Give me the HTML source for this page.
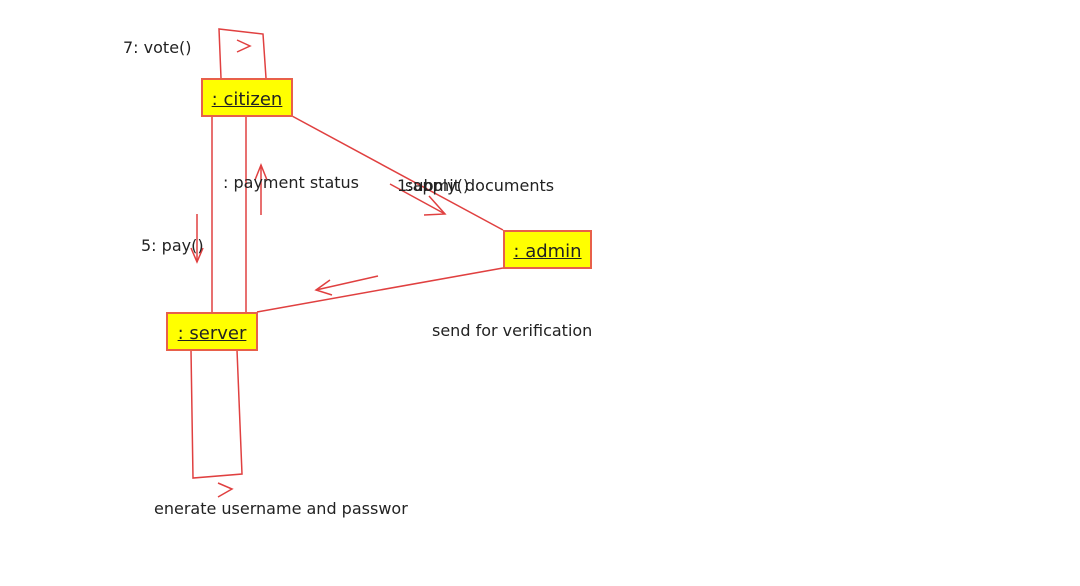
<!DOCTYPE html>
<html><head><style>
body{margin:0;width:1080px;height:586px;background:#fff;position:relative;overflow:hidden;font-family:"DejaVu Sans",Verdana,sans-serif;}
.t{position:absolute;font-size:16px;color:#222;white-space:nowrap;}
.b{position:absolute;background:#ffff00;border:2px solid #e8604a;box-sizing:border-box;font-size:18px;text-align:center;line-height:40px;color:#222;}
.b span{text-decoration:underline;}
</style></head><body>
<svg width="1080" height="586" style="position:absolute;left:0;top:0" fill="none" stroke="#e04040" stroke-width="1.5">
<polyline points="221,78 219,29 263,34 266,78"/>
<polyline points="237,40 250,46 237,52"/>
<line x1="212" y1="116" x2="212" y2="312"/>
<line x1="246" y1="116" x2="246" y2="312"/>
<line x1="292" y1="116" x2="503" y2="230"/>
<line x1="390" y1="184" x2="445" y2="214"/>
<polyline points="429,196 445,214 424,215"/>
<line x1="503" y1="268" x2="257" y2="312"/>
<line x1="378" y1="276" x2="316" y2="290"/>
<polyline points="330,280 316,290 332,295"/>
<polyline points="191,350 193,478 242,474 237,350"/>
<polyline points="218,483 232,489 218,497"/>
<line x1="197" y1="214" x2="197" y2="262"/>
<polyline points="191,248 197,262 203,248"/>
<line x1="261" y1="215" x2="261" y2="165"/>
<polyline points="255,180 261,165 267,180"/>
</svg>
<div class="b" style="left:201px;top:78px;width:92px;height:39px"><span>: citizen</span></div>
<div class="b" style="left:503px;top:230px;width:89px;height:39px"><span>: admin</span></div>
<div class="b" style="left:166px;top:312px;width:92px;height:39px"><span>: server</span></div>
<div class="t" style="left:123px;top:38px">7: vote()</div>
<div class="t" style="left:223px;top:173px">: payment status</div>
<div class="t" style="left:397px;top:176px">1:apply()</div>
<div class="t" style="left:405px;top:176px">submit documents</div>
<div class="t" style="left:141px;top:236px">5: pay()</div>
<div class="t" style="left:432px;top:321px">send for verification</div>
<div class="t" style="left:154px;top:499px">enerate username and passwor</div>
</body></html>
